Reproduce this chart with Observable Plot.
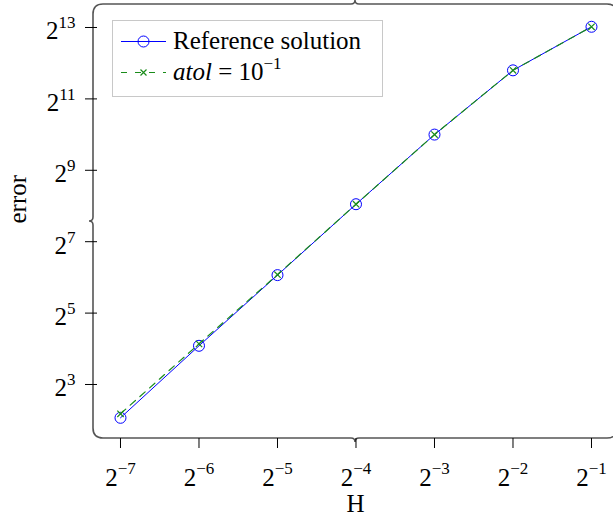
<!DOCTYPE html>
<html><head><meta charset="utf-8">
<script src="https://cdn.jsdelivr.net/npm/d3@7"></script>
<script src="https://cdn.jsdelivr.net/npm/@observablehq/plot@0.6"></script>
<style>body{margin:0;background:#fff;} svg{display:block;}</style>
</head><body><div id="chart"></div>
<script>
// Data
const H = [2 ** -7, 2 ** -6, 2 ** -5, 2 ** -4, 2 ** -3, 2 ** -2, 2 ** -1];
const refError = [4.19, 16.96, 66.9, 265, 1024, 3565, 8306];
const atolError = [4.53, 17.6, 67.5, 265, 1024, 3565, 8306];
const xTicks = [2 ** -7, 2 ** -6, 2 ** -5, 2 ** -4, 2 ** -3, 2 ** -2, 2 ** -1];
const yTicks = [2 ** 3, 2 ** 5, 2 ** 7, 2 ** 9, 2 ** 11, 2 ** 13];
const legendLabels = ["Reference solution", "atol"];
const xLabel = "H";
const yLabel = "error";

const refData = H.map((h, i) => ({h, e: refError[i]}));
const atolData = H.map((h, i) => ({h, e: atolError[i]}));

const W = 613, HT = 523;
const mL = 93, mR = 0, mT = 4, mB = 85;
const FONT = "Liberation Serif, Times New Roman, serif";
const BLUE = "#0000ff", GREEN = "#1a8c1a";

const svg = Plot.plot({
  width: W, height: HT,
  marginLeft: mL, marginRight: mR, marginTop: mT, marginBottom: mB,
  style: {fontFamily: FONT, fontSize: "24px", background: "#fff", color: "#000"},
  x: {type: "log", base: 2, domain: [2 ** -7.3439, 2 ** -0.7197], label: null},
  y: {type: "log", base: 2, domain: [2 ** 1.4874, 2 ** 13.644], label: null},
  marks: [
    Plot.axisX(xTicks, {tickSize: 10, tickPadding: 20, fontSize: 25, label: null,
      tickFormat: d => String(Math.round(Math.log2(d)))}),
    Plot.axisY(yTicks, {tickSize: 12, dx: 4, tickPadding: 10, fontSize: 25, label: null,
      tickFormat: d => String(Math.round(Math.log2(d)))}),
    Plot.line(refData, {x: "h", y: "e", stroke: BLUE, strokeWidth: 1}),
    Plot.dot(refData, {x: "h", y: "e", r: 5.5, stroke: BLUE, strokeWidth: 1, fill: "none"}),
    Plot.line(atolData, {x: "h", y: "e", stroke: GREEN, strokeWidth: 1.2, strokeDasharray: "7,6"}),
    Plot.dot(atolData, {x: "h", y: "e", r: 3, symbol: "times", stroke: GREEN, strokeWidth: 1.2}),
    Plot.text([yLabel], {frameAnchor: "left", rotate: -90, dx: -76, dy: 2, fontSize: 25, fill: "#000"}),
    Plot.text([xLabel], {frameAnchor: "bottom", dx: 2, dy: 73, fontSize: 25, fill: "#000"})
  ]
});

const S = d3.select(svg);

// Superscript tick labels 2^n
function supLabels(sel, baseDy, supDy) {
  sel.each(function() {
    const t = d3.select(this);
    const exp = t.text().replace("-", "\u2212");
    t.text("");
    t.append("tspan").attr("dy", baseDy).text("2");
    t.append("tspan").attr("dy", supDy).attr("font-size", "17px").text(exp);
  });
}
supLabels(S.selectAll('g[aria-label="x-axis tick label"] text'), 0, -12);
supLabels(S.selectAll('g[aria-label="y-axis tick label"] text'), 4, -11);

// Brace-style frame
const L = mL, T = mT, R = W - mR + 4, B = HT - mB;
const xm = (L + R) / 2, ym = (T + B) / 2, r = 10, a = 4;
const d = [
  `M${L},${T + r}Q${L},${T} ${L + r},${T}`,
  `H${xm - a}Q${xm},${T} ${xm},${T - a}Q${xm},${T} ${xm + a},${T}`,
  `H${R - r}Q${R},${T} ${R},${T + r}`,
  `V${ym - a}Q${R},${ym} ${R + a},${ym}Q${R},${ym} ${R},${ym + a}`,
  `V${B - r}Q${R},${B} ${R - r},${B}`,
  `H${xm + a}Q${xm},${B} ${xm},${B + a}Q${xm},${B} ${xm - a},${B}`,
  `H${L + r}Q${L},${B} ${L},${B - r}`,
  `V${ym + a}Q${L},${ym} ${L - a},${ym}Q${L},${ym} ${L},${ym - a}Z`
].join("");
S.insert("path", ":first-child").attr("d", d).attr("fill", "none")
  .attr("stroke", "#555").attr("stroke-width", 1.6);
S.insert("rect", ":first-child").attr("width", W).attr("height", HT).attr("fill", "#fff");

// Legend
const lg = S.append("g").attr("font-family", FONT).attr("font-size", 25).attr("text-anchor", "start");
lg.append("rect").attr("x", 112.5).attr("y", 20.5).attr("width", 270).attr("height", 76)
  .attr("fill", "#fff").attr("stroke", "#c8c8c8").attr("stroke-width", 1);
lg.append("line").attr("x1", 121).attr("x2", 166).attr("y1", 41.5).attr("y2", 41.5)
  .attr("stroke", BLUE).attr("stroke-width", 1);
lg.append("circle").attr("cx", 143.5).attr("cy", 41.5).attr("r", 5.5)
  .attr("fill", "none").attr("stroke", BLUE).attr("stroke-width", 1);
lg.append("text").attr("x", 173).attr("y", 49).attr("text-anchor", "start").text(legendLabels[0]);
lg.append("line").attr("x1", 121).attr("x2", 166).attr("y1", 72.5).attr("y2", 72.5)
  .attr("stroke", GREEN).attr("stroke-width", 1.2).attr("stroke-dasharray", "6,8");
lg.append("path").attr("d", "M140.5,69.5l6,6M146.5,69.5l-6,6")
  .attr("stroke", GREEN).attr("stroke-width", 1.2);
const t2 = lg.append("text").attr("x", 173).attr("y", 80).attr("text-anchor", "start");
t2.append("tspan").attr("font-style", "italic").text(legendLabels[1]);
t2.append("tspan").text(" = 10");
t2.append("tspan").attr("dy", -11).attr("font-size", "17px").text("\u22121");

document.getElementById("chart").appendChild(svg);
</script>
</body></html>
